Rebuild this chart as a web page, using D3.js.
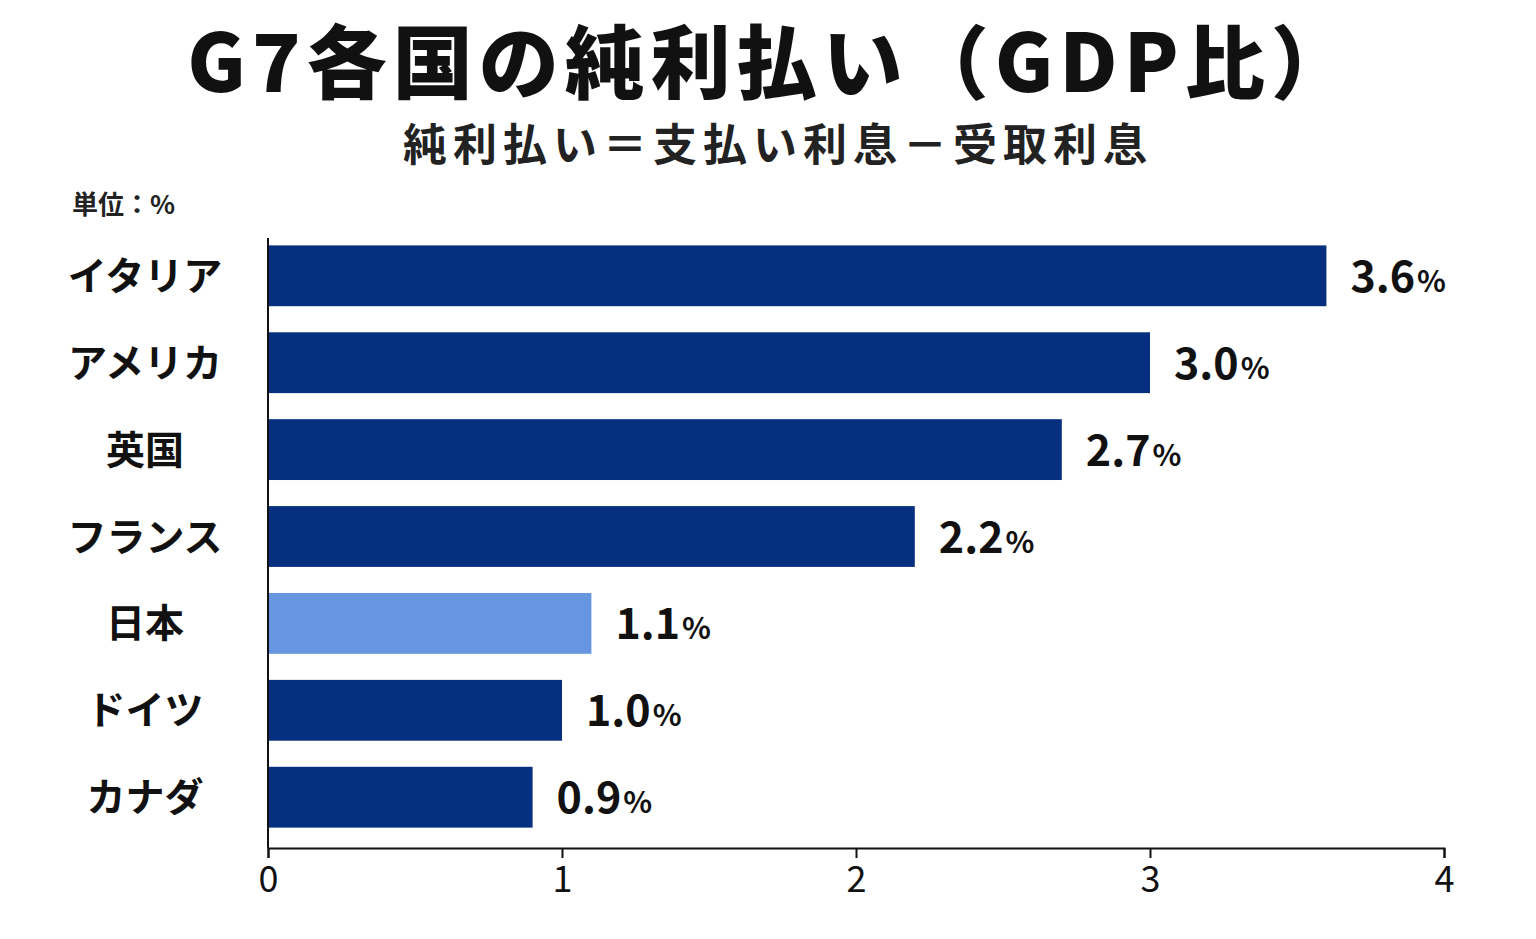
<!DOCTYPE html>
<html>
<head>
<meta charset="utf-8">
<script src="https://cdn.jsdelivr.net/npm/d3@7"></script>
<style>
  body { margin: 0; background: #fff; }
  text { font-family: "Noto Sans CJK JP", "Noto Sans", sans-serif; }
</style>
</head>
<body>
<svg id="chart" width="1536" height="939"></svg>
<script>
// chart data
const countries = ["イタリア", "アメリカ", "英国", "フランス", "日本", "ドイツ", "カナダ"];
const values = [3.6, 3.0, 2.7, 2.2, 1.1, 1.0, 0.9];
const highlight = "日本";
const xTicks = [0, 1, 2, 3, 4];

const svg = d3.select("#chart");

// titles
svg.append("text").attr("x", 772).attr("y", 92).attr("text-anchor", "middle")
  .attr("font-size", 80).attr("font-weight", 900).attr("fill", "#111")
  .attr("letter-spacing", 6)
  .text("G7各国の純利払い（GDP比）");
svg.append("text").attr("x", 778).attr("y", 161).attr("text-anchor", "middle")
  .attr("font-size", 44).attr("font-weight", 700).attr("fill", "#222")
  .attr("letter-spacing", 6)
  .text("純利払い＝支払い利息－受取利息");
svg.append("text").attr("x", 72).attr("y", 214)
  .attr("font-size", 26).attr("font-weight", 700).attr("fill", "#222")
  .text("単位：%");

// scales
const x = d3.scaleLinear().domain([0, 4]).range([268, 1444]);
const y = d3.scaleBand().domain(countries).range([228, 845]).paddingInner(0.3).paddingOuter(0.2);

// bars
svg.selectAll("rect.bar").data(countries).join("rect")
  .attr("x", x(0))
  .attr("y", d => y(d))
  .attr("width", (d, i) => x(values[i]) - x(0))
  .attr("height", y.bandwidth())
  .attr("fill", d => d === highlight ? "#6696e0" : "#06307f");

// value labels
const vl = svg.selectAll("text.val").data(countries).join("text")
  .attr("x", (d, i) => x(values[i]) + 24)
  .attr("y", d => y(d) + y.bandwidth() / 2 + 16)
  .attr("font-size", 43).attr("font-weight", 600).attr("fill", "#111");
vl.append("tspan").text((d, i) => values[i].toFixed(1));
vl.append("tspan").attr("font-size", 30).attr("dx", 2).text("%");

// category labels
svg.selectAll("text.cat").data(countries).join("text")
  .attr("x", 145)
  .attr("y", d => y(d) + y.bandwidth() / 2 + 14)
  .attr("text-anchor", "middle")
  .attr("font-size", 39).attr("font-weight", 700).attr("fill", "#111")
  .text(d => d);

// axes
svg.append("line").attr("x1", x(0)).attr("x2", x(0)).attr("y1", 238).attr("y2", 848)
  .attr("stroke", "#111").attr("stroke-width", 2);
const xAxis = svg.append("g").attr("transform", "translate(0,848)")
  .call(d3.axisBottom(x).tickValues(xTicks).tickFormat(d3.format("d")).tickSize(10).tickPadding(8));
xAxis.select(".domain").attr("stroke", "#111").attr("stroke-width", 2);
xAxis.selectAll(".tick line").attr("stroke", "#111").attr("stroke-width", 2);
xAxis.selectAll(".tick text").attr("font-size", 36).attr("fill", "#111")
  .attr("font-family", "\"Noto Sans\", sans-serif");
</script>
</body>
</html>
